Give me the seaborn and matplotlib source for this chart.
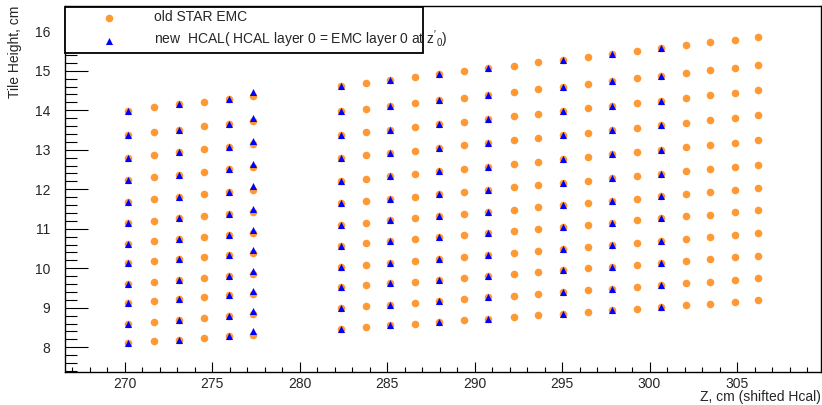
import matplotlib.pyplot as plt
import matplotlib.ticker as mtick
import pandas as pd
import seaborn as sns

# Z position of each tile column (cm) and tile heights in that column (top -> bottom)
emc_z = [270.19, 271.71, 273.14, 274.57, 275.97, 277.37,
         282.37, 283.79, 285.18, 286.59, 287.98, 289.41, 290.78, 292.23, 293.62,
         295.05, 296.46, 297.85, 299.26, 300.65, 302.06, 303.47, 304.86, 306.19]
emc_heights = [
    [13.99, 13.37, 12.80, 12.24, 11.68, 11.14, 10.62, 10.12, 9.60, 9.11, 8.60, 8.11],
    [14.07, 13.44, 12.87, 12.31, 11.75, 11.20, 10.68, 10.18, 9.65, 9.16, 8.65, 8.15],
    [14.15, 13.51, 12.94, 12.37, 11.81, 11.26, 10.73, 10.23, 9.70, 9.21, 8.70, 8.19],
    [14.22, 13.59, 13.01, 12.44, 11.87, 11.32, 10.79, 10.28, 9.75, 9.26, 8.74, 8.24],
    [14.29, 13.66, 13.08, 12.50, 11.93, 11.38, 10.85, 10.34, 9.80, 9.31, 8.79, 8.28],
    [14.37, 13.72, 13.14, 12.56, 11.99, 11.43, 10.90, 10.39, 9.85, 9.35, 8.83, 8.32],
    [14.62, 13.97, 13.38, 12.79, 12.21, 11.64, 11.10, 10.57, 10.03, 9.52, 8.99, 8.47],
    [14.70, 14.04, 13.45, 12.86, 12.27, 11.70, 11.15, 10.63, 10.08, 9.57, 9.04, 8.51],
    [14.77, 14.11, 13.51, 12.92, 12.33, 11.76, 11.21, 10.68, 10.13, 9.62, 9.08, 8.56],
    [14.84, 14.18, 13.58, 12.98, 12.39, 11.81, 11.26, 10.73, 10.18, 9.66, 9.13, 8.60],
    [14.91, 14.25, 13.64, 13.05, 12.45, 11.87, 11.32, 10.78, 10.23, 9.71, 9.17, 8.64],
    [14.99, 14.32, 13.71, 13.11, 12.51, 11.93, 11.37, 10.84, 10.28, 9.76, 9.21, 8.68],
    [15.06, 14.39, 13.78, 13.17, 12.57, 11.99, 11.43, 10.89, 10.33, 9.81, 9.26, 8.72],
    [15.13, 14.46, 13.85, 13.24, 12.64, 12.05, 11.48, 10.94, 10.38, 9.85, 9.30, 8.77],
    [15.21, 14.53, 13.91, 13.30, 12.70, 12.10, 11.54, 11.00, 10.43, 9.90, 9.35, 8.81],
    [15.28, 14.60, 13.98, 13.37, 12.76, 12.16, 11.60, 11.05, 10.48, 9.95, 9.39, 8.85],
    [15.35, 14.67, 14.05, 13.43, 12.82, 12.22, 11.65, 11.10, 10.53, 10.00, 9.44, 8.89],
    [15.43, 14.74, 14.11, 13.49, 12.88, 12.28, 11.71, 11.15, 10.58, 10.04, 9.48, 8.94],
    [15.50, 14.81, 14.18, 13.56, 12.94, 12.34, 11.76, 11.21, 10.63, 10.09, 9.53, 8.98],
    [15.57, 14.88, 14.24, 13.62, 13.00, 12.39, 11.82, 11.26, 10.68, 10.14, 9.57, 9.02],
    [15.64, 14.95, 14.31, 13.68, 13.06, 12.45, 11.87, 11.31, 10.73, 10.19, 9.62, 9.06],
    [15.72, 15.02, 14.38, 13.75, 13.12, 12.51, 11.93, 11.36, 10.78, 10.23, 9.66, 9.10],
    [15.79, 15.08, 14.44, 13.81, 13.18, 12.57, 11.98, 11.42, 10.83, 10.28, 9.71, 9.15],
    [15.86, 15.15, 14.51, 13.87, 13.24, 12.62, 12.03, 11.47, 10.88, 10.32, 9.75, 9.19],
]

hcal_z = [270.19, 273.14, 275.97, 277.37, 282.37, 285.18, 287.98, 290.78, 295.05, 297.85, 300.65]
hcal_heights = [
    [13.99, 13.37, 12.80, 12.24, 11.68, 11.14, 10.62, 10.12, 9.60, 9.11, 8.60, 8.11],
    [14.15, 13.51, 12.94, 12.37, 11.81, 11.26, 10.73, 10.23, 9.70, 9.21, 8.70, 8.19],
    [14.29, 13.66, 13.08, 12.50, 11.93, 11.38, 10.85, 10.34, 9.80, 9.31, 8.79, 8.28],
    [14.45, 13.80, 13.22, 12.64, 12.07, 11.51, 10.98, 10.47, 9.93, 9.43, 8.91, 8.40],
    [14.62, 13.97, 13.38, 12.79, 12.21, 11.64, 11.10, 10.57, 10.03, 9.52, 8.99, 8.47],
    [14.77, 14.11, 13.51, 12.92, 12.33, 11.76, 11.21, 10.68, 10.13, 9.62, 9.08, 8.56],
    [14.91, 14.25, 13.64, 13.05, 12.45, 11.87, 11.32, 10.78, 10.23, 9.71, 9.17, 8.64],
    [15.06, 14.39, 13.78, 13.17, 12.57, 11.99, 11.43, 10.89, 10.33, 9.81, 9.26, 8.72],
    [15.28, 14.60, 13.98, 13.37, 12.76, 12.16, 11.60, 11.05, 10.48, 9.95, 9.39, 8.85],
    [15.43, 14.74, 14.11, 13.49, 12.88, 12.28, 11.71, 11.15, 10.58, 10.04, 9.48, 8.94],
    [15.57, 14.88, 14.24, 13.62, 13.00, 12.39, 11.82, 11.26, 10.68, 10.14, 9.57, 9.02],
]

label_emc = "old STAR EMC"
label_hcal = r"new  HCAL( HCAL layer 0 = EMC layer 0 at $\mathregular{z'_0}$)"


def to_frame(zs, heights):
    rows = [(z, h) for z, col in zip(zs, heights) for h in col]
    return pd.DataFrame(rows, columns=["z", "height"])


df_emc = to_frame(emc_z, emc_heights)
df_hcal = to_frame(hcal_z, hcal_heights)

sns.set_style("ticks")
plt.rcParams["font.family"] = ["Liberation Sans", "DejaVu Sans"]
plt.rcParams["font.size"] = 10

fig = plt.figure(figsize=(8.22, 4.05), dpi=100)
ax = fig.add_axes([0.0791, 0.0822, 0.9197, 0.9030])

sns.scatterplot(data=df_emc, x="z", y="height", marker="o", s=30, color="#ff9933",
                linewidth=0, ax=ax, label=label_emc, zorder=3)
sns.scatterplot(data=df_hcal, x="z", y="height", marker="^", s=26, color="#0000ff",
                linewidth=0, ax=ax, label=label_hcal, zorder=4)

ax.set_xlim(266.6, 309.8)
ax.set_ylim(7.38, 16.64)

# ROOT-like ticks: inside, bottom/left only
ax.xaxis.set_major_locator(mtick.MultipleLocator(5))
ax.xaxis.set_minor_locator(mtick.MultipleLocator(1))
ax.yaxis.set_major_locator(mtick.MultipleLocator(1))
ax.yaxis.set_minor_locator(mtick.MultipleLocator(0.2))
ax.tick_params(which="both", direction="in", top=False, right=False, width=0.8, color="black")
ax.tick_params(axis="x", which="major", length=7.5, pad=3.5, labelsize=10)
ax.tick_params(axis="x", which="minor", length=3.8)
ax.tick_params(axis="y", which="major", length=16.5, pad=10.5, labelsize=10)
ax.tick_params(axis="y", which="minor", length=8.5)
for sp in ax.spines.values():
    sp.set_linewidth(1.0)
    sp.set_color("black")

ax.set_xlabel("Z, cm (shifted Hcal)", loc="right", fontsize=10)
ax.xaxis.set_label_coords(1.0, -0.069)
ax.xaxis.label.set_va("center")
ax.set_ylabel("Tile Height, cm", loc="top", fontsize=10)
ax.yaxis.set_label_coords(-0.066, 1.0)
ax.yaxis.label.set_va("center")

leg = ax.legend(loc="upper left", bbox_to_anchor=(0.0, 0.874, 0.4735, 0.123), mode="expand",
                borderaxespad=0, fancybox=False, edgecolor="black", framealpha=1,
                shadow=False, borderpad=0.22, handlelength=5.9,
                handletextpad=0.27, labelspacing=0.32, fontsize=10)
leg.get_frame().set_linewidth(1.3)

fig.savefig("out.png", dpi=100)
